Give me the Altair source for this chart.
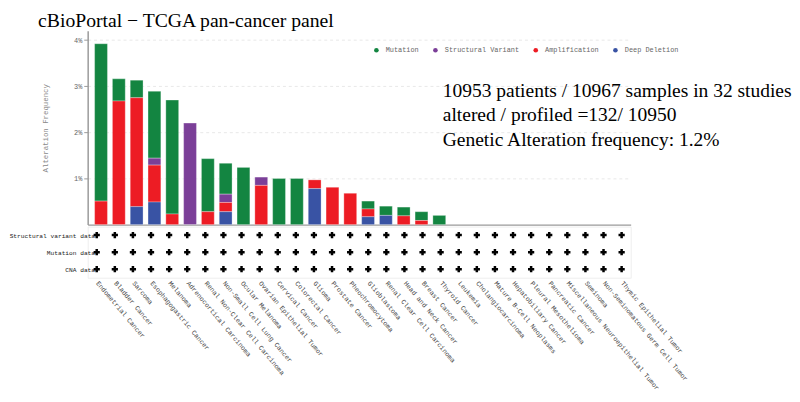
import altair as alt
import pandas as pd

cancers = [
    "Endometrial Cancer", "Bladder Cancer", "Sarcoma", "Esophagogastric Cancer", "Melanoma",
    "Adrenocortical Carcinoma", "Renal Non-Clear Cell Carcinoma", "Non-Small Cell Lung Cancer",
    "Ocular Melanoma", "Ovarian Epithelial Tumor", "Cervical Cancer", "Colorectal Cancer", "Glioma",
    "Prostate Cancer", "Pheochromocytoma", "Glioblastoma", "Renal Clear Cell Carcinoma",
    "Head and Neck Cancer", "Breast Cancer", "Thyroid Cancer", "Leukemia", "Cholangiocarcinoma",
    "Mature B-Cell Neoplasms", "Hepatobiliary Cancer", "Pleural Mesothelioma", "Pancreatic Cancer",
    "Miscellaneous Neuroepithelial Tumor", "Seminoma", "Non-Seminomatous Germ Cell Tumor",
    "Thymic Epithelial Tumor",
]

mutation = [3.41, 0.48, 0.38, 1.45, 2.47, 0, 1.15, 0.67, 1.24, 0, 1.00, 1.00, 0, 0, 0,
            0.17, 0.20, 0.19, 0.19, 0.20, 0, 0, 0, 0, 0, 0, 0, 0, 0, 0]
structural = [0, 0, 0, 0.15, 0, 2.20, 0, 0.18, 0, 0.18, 0, 0, 0, 0, 0,
              0, 0, 0, 0, 0, 0, 0, 0, 0, 0, 0, 0, 0, 0, 0]
amplification = [0.51, 2.68, 2.36, 0.80, 0.23, 0, 0.28, 0.20, 0, 0.85, 0, 0, 0.19, 0.81, 0.68,
                 0.17, 0, 0.19, 0.09, 0, 0, 0, 0, 0, 0, 0, 0, 0, 0, 0]
deep_deletion = [0, 0, 0.39, 0.49, 0, 0, 0, 0.28, 0, 0, 0, 0, 0.78, 0, 0,
                 0.17, 0.20, 0, 0, 0, 0, 0, 0, 0, 0, 0, 0, 0, 0, 0]

types = ["Mutation", "Structural Variant", "Amplification", "Deep Deletion"]
colors = ["#138541", "#7b3f98", "#ed1c24", "#3953a4"]
stack_rank = [3, 2, 1, 0]

grid_rows = ["Structural variant data", "Mutation data", "CNA data"]

title_text = "cBioPortal \u2212 TCGA pan-cancer panel"
note_lines = [
    "10953 patients / 10967 samples in 32 studies",
    "altered / profiled =132/ 10950",
    "Genetic Alteration frequency: 1.2%",
]

records = []
for i, c in enumerate(cancers):
    for t, vals, r in zip(types, [mutation, structural, amplification, deep_deletion], stack_rank):
        if vals[i] > 0:
            records.append({"cancer": c, "type": t, "freq": vals[i], "rank": r})
df = pd.DataFrame(records)

grid_df = pd.DataFrame([{"cancer": c, "row": r} for r in grid_rows for c in cancers])

mono = "Liberation Mono"
serif = "Liberation Serif"
W = 552

xscale = alt.Scale(domain=cancers, paddingInner=0.28, paddingOuter=0.39)

bars = alt.Chart(df).mark_bar(stroke="white", strokeWidth=0.5, strokeOpacity=0.6).encode(
    x=alt.X("cancer:N", scale=xscale, sort=cancers,
            axis=alt.Axis(labels=False, ticks=False, title=None, domainColor="#9a9a9a", domainWidth=1.5)),
    y=alt.Y("freq:Q", stack="zero", scale=alt.Scale(domain=[0, 4.2], nice=False),
            axis=alt.Axis(values=[1, 2, 3, 4], labelExpr="datum.value + '%'",
                          title="Alteration Frequency", titleFont=mono, titleFontSize=7.5,
                          titleFontWeight="normal", titleColor="#888", titlePadding=24,
                          labelFont=mono, labelFontSize=7, labelColor="#666",
                          tickSize=4, tickColor="#999", domainColor="#9a9a9a", domainWidth=1.5,
                          grid=True, gridDash=[3, 3], gridColor="#e8e8e8")),
    color=alt.Color("type:N", scale=alt.Scale(domain=types, range=colors),
                    legend=alt.Legend(title=None, orient="none", direction="horizontal",
                                      legendX=290, legendY=16, symbolType="circle", symbolSize=22,
                                      symbolStrokeWidth=0, labelFont=mono, labelFontSize=7,
                                      labelColor="#666", columnPadding=13, labelOffset=6, padding=0)),
    order=alt.Order("rank:Q", sort="ascending"),
)

note = alt.Chart(pd.DataFrame({"n": [0]})).mark_text(
    text=note_lines, align="left", baseline="alphabetic", font=serif, fontSize=19.8,
    lineHeight=25, color="black"
).encode(x=alt.value(361), y=alt.value(67))

top = alt.layer(bars, note).properties(width=W, height=197)

grid = alt.Chart(grid_df).mark_point(shape="cross", filled=True, color="black", size=40, opacity=1).encode(
    x=alt.X("cancer:N", scale=xscale, sort=cancers,
            axis=alt.Axis(title=None, labelAngle=50, labelAlign="left", labelBaseline="middle",
                          domain=False, ticks=False, labelPadding=4, labelFont=mono,
                          labelFontSize=6.8, labelColor="#444", labelLimit=300)),
    y=alt.Y("row:N", sort=grid_rows, scale=alt.Scale(domain=grid_rows, padding=0.5),
            axis=alt.Axis(title=None, domain=False, ticks=False, labelAlign="right", labelPadding=2,
                          offset=-9, labelFont=mono, labelFontSize=6.3, labelColor="#222")),
).properties(width=W, height=52, view=alt.ViewBackground(stroke="#eeeeee", strokeWidth=1))

chart = alt.vconcat(top, grid, spacing=2, bounds="flush").properties(
    padding=0,
    title=alt.TitleParams(text=title_text, anchor="start", font=serif, fontSize=20,
                          fontWeight="normal", color="black", dx=30, offset=0),
).configure_view(strokeWidth=0)

chart.save("out.html", embed_options={"renderer": "svg", "actions": False})
